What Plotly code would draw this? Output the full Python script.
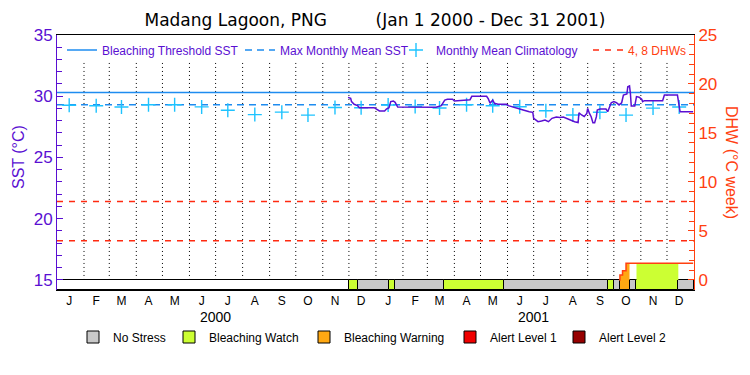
import plotly.graph_objects as go
import pandas as pd

# ---------------- data ----------------
title_text = "Madang Lagoon, PNG" + "\u00a0" * 9 + "(Jan 1 2000 - Dec 31 2001)"

month_tick_dates = ["2000-01-15", "2000-02-15", "2000-03-15", "2000-04-15", "2000-05-15", "2000-06-15",
                    "2000-07-15", "2000-08-15", "2000-09-15", "2000-10-15", "2000-11-15", "2000-12-15",
                    "2001-01-15", "2001-02-15", "2001-03-15", "2001-04-15", "2001-05-15", "2001-06-15",
                    "2001-07-15", "2001-08-15", "2001-09-15", "2001-10-15", "2001-11-15", "2001-12-15"]
month_tick_labels = ["J", "F", "M", "A", "M", "J", "J", "A", "S", "O", "N", "D",
                     "J", "F", "M", "A", "M", "J", "J", "A", "S", "O", "N", "D"]
year_label_dates = ["2000-07-01", "2001-07-01"]
year_labels = ["2000", "2001"]

sst_dates = ["2000-11-30", "2000-12-03", "2000-12-04", "2000-12-07", "2000-12-11", "2000-12-13",
             "2000-12-30", "2001-01-02", "2001-01-05", "2001-01-11", "2001-01-13", "2001-01-16",
             "2001-01-18", "2001-01-21", "2001-01-23", "2001-01-26", "2001-03-06", "2001-03-11",
             "2001-03-17", "2001-03-21", "2001-03-24", "2001-03-30", "2001-04-01", "2001-04-13",
             "2001-04-19", "2001-04-21", "2001-05-08", "2001-05-10", "2001-05-12", "2001-05-15",
             "2001-05-17", "2001-05-21", "2001-05-31", "2001-06-02", "2001-06-09", "2001-06-13",
             "2001-06-19", "2001-06-26", "2001-06-30", "2001-07-01", "2001-07-06", "2001-07-10",
             "2001-07-14", "2001-07-18", "2001-07-22", "2001-07-27", "2001-07-31", "2001-08-04",
             "2001-08-08", "2001-08-11", "2001-08-17", "2001-08-21", "2001-08-22", "2001-08-25",
             "2001-08-28", "2001-08-31", "2001-09-01", "2001-09-03", "2001-09-05", "2001-09-07",
             "2001-09-09", "2001-09-11", "2001-09-12", "2001-09-15", "2001-09-22", "2001-09-24",
             "2001-09-26", "2001-09-28", "2001-10-01", "2001-10-04", "2001-10-07", "2001-10-10",
             "2001-10-12", "2001-10-16", "2001-10-17", "2001-10-19", "2001-10-20", "2001-10-21",
             "2001-10-25", "2001-10-27", "2001-10-30", "2001-11-02", "2001-11-03", "2001-11-05",
             "2001-11-26", "2001-11-28", "2001-12-13", "2001-12-15", "2001-12-16", "2001-12-31"]
sst_values = [29.91, 29.83, 29.56, 29.34, 29.23, 29.07,
              29.07, 28.96, 28.80, 28.80, 28.96, 29.07,
              29.56, 29.61, 29.50, 29.12, 29.10, 29.10,
              29.23, 29.69, 29.75, 29.75, 29.61, 29.67,
              29.72, 29.99, 29.99, 29.78, 29.42, 29.69,
              29.42, 29.34, 29.34, 29.23, 29.07, 28.96,
              28.88, 28.74, 28.69, 28.20, 27.92, 27.98,
              28.06, 27.92, 28.20, 28.31, 28.27, 28.31,
              28.20, 28.06, 27.92, 27.85, 28.65, 28.47,
              28.35, 28.60, 29.00, 28.60, 28.33, 27.84,
              27.84, 28.33, 28.88, 28.96, 28.96, 28.74,
              29.15, 29.47, 29.56, 29.47, 29.29, 29.47,
              30.10, 30.18, 30.78, 30.84, 30.24, 29.20,
              29.20, 29.97, 29.92, 29.75, 29.56, 29.64,
              29.64, 30.10, 30.10, 29.29, 28.74, 28.74]

clim_dates = month_tick_dates
clim_values = [29.26, 29.22, 29.12, 29.31, 29.30, 29.13, 28.85, 28.50, 28.70, 28.46, 29.08, 29.06,
               29.28, 29.17, 29.04, 29.30, 29.22, 29.14, 28.82, 28.47, 28.69, 28.46, 29.03, 29.12]

bleaching_threshold = 30.3
max_monthly_mean = 29.3
dhw_levels = [4, 8]

dhw_dates = ["2001-10-07", "2001-10-08", "2001-10-11", "2001-10-15", "2001-12-31"]
dhw_values = [0.0, 0.5, 0.95, 1.7, 1.7]

# area under DHW coloured by stress level
warn_fill_dates = ["2001-10-08", "2001-10-11", "2001-10-15", "2001-10-19"]
warn_fill_values = [0.5, 0.95, 1.7, 1.7]
watch_fill_dates = ["2001-10-27", "2001-12-14"]
watch_fill_values = [1.7, 1.7]

# stress-level strip
stress_starts = ["2000-12-01", "2000-12-11", "2001-01-16", "2001-01-23", "2001-03-20", "2001-05-28",
                 "2001-09-24", "2001-10-01", "2001-10-08", "2001-10-20", "2001-10-26", "2001-12-14"]
stress_ends = ["2000-12-11", "2001-01-16", "2001-01-23", "2001-03-20", "2001-05-28", "2001-09-24",
               "2001-10-01", "2001-10-08", "2001-10-20", "2001-10-26", "2001-12-14", "2002-01-01"]
stress_levels = ["Bleaching Watch", "No Stress", "Bleaching Watch", "No Stress", "Bleaching Watch", "No Stress",
                 "Bleaching Watch", "No Stress", "Bleaching Warning", "No Stress", "Bleaching Watch", "No Stress"]
no_data_start, no_data_end = "2000-01-01", "2000-12-01"

stress_names = ["No Stress", "Bleaching Watch", "Bleaching Warning", "Alert Level 1", "Alert Level 2"]
stress_colors = ["#C8C8C8", "#CCFF33", "#FFA812", "#F00000", "#960000"]

# ---------------- styling ----------------
PURPLE = "#5A0FD2"
ORANGE = "#FF4010"
RED = "#FF2A10"
BLUE = "#1E8CF0"
CYAN = "#1EC3FF"
FONT = "Liberation Sans"
TFONT = "DejaVu Sans"
X0, X1 = "2000-01-01", "2002-01-01"
STRIP = 1.025  # strip height in DHW units

L, R, T, B = 57, 56, 35, 85
W, H = 750, 375
PW, PH = W - L - R, H - T - B


def px_x(p):
    return (p - L) / PW


def px_y(p):
    return (H - B - p) / PH


fig = go.Figure()

# month boundary dotted lines
mstarts = pd.date_range("2000-02-01", "2001-12-01", freq="MS")
gx, gy = [], []
for d in mstarts:
    gx += [d, d, None]
    gy += [15, 32.8, None]
fig.add_trace(go.Scatter(x=gx, y=gy, mode="lines", line=dict(color="black", width=1, dash="1px,3px"),
                         showlegend=False, hoverinfo="skip"))

# stress strip (on DHW axis)
s0, s1 = pd.Timestamp(no_data_start), pd.Timestamp(no_data_end)
fig.add_trace(go.Bar(x=[s0 + (s1 - s0) / 2], y=[STRIP], base=-STRIP, width=[(s1 - s0).total_seconds() * 1000],
                     marker=dict(color="white", line=dict(color="black", width=1)), yaxis="y2",
                     showlegend=False, hoverinfo="skip"))
bottom_leg_x = [73, 169, 304, 450, 559]
for i, (name, col) in enumerate(zip(stress_names, stress_colors)):
    xs, ws = [], []
    for a, b, lv in zip(stress_starts, stress_ends, stress_levels):
        if lv == name:
            ta, tb = pd.Timestamp(a), pd.Timestamp(b)
            xs.append(ta + (tb - ta) / 2)
            ws.append((tb - ta).total_seconds() * 1000)
    if not xs:
        xs, ws = [None], [1]
    fig.add_trace(go.Bar(x=xs, y=[STRIP] * len(xs), base=-STRIP, width=ws, name=name,
                         marker=dict(color=col, line=dict(color="black", width=1)), yaxis="y2",
                         legend="legend%d" % (5 + i), hoverinfo="skip"))

# DHW filled areas
fig.add_trace(go.Scatter(x=warn_fill_dates, y=warn_fill_values, mode="lines", line=dict(width=0, shape="hv"),
                         fill="tozeroy", fillcolor=stress_colors[2], yaxis="y2", showlegend=False, hoverinfo="skip"))
fig.add_trace(go.Scatter(x=watch_fill_dates, y=watch_fill_values, mode="lines", line=dict(width=0, shape="hv"),
                         fill="tozeroy", fillcolor=stress_colors[1], yaxis="y2", showlegend=False, hoverinfo="skip"))

# reference lines
fig.add_trace(go.Scatter(x=[X0, X1], y=[bleaching_threshold] * 2, mode="lines",
                         line=dict(color=BLUE, width=1.5), name="Bleaching Threshold SST", legend="legend"))
fig.add_trace(go.Scatter(x=[X0, X1], y=[max_monthly_mean] * 2, mode="lines",
                         line=dict(color=BLUE, width=1.5, dash="7px,5px"), name="Max Monthly Mean SST",
                         legend="legend2"))
dx, dy = [], []
for lv in dhw_levels:
    dx += [X0, X1, None]
    dy += [lv, lv, None]
fig.add_trace(go.Scatter(x=dx, y=dy, mode="lines", line=dict(color=RED, width=1.5, dash="6px,6px"),
                         name="4, 8 DHWs", yaxis="y2", legend="legend4"))

# climatology
fig.add_trace(go.Scatter(x=clim_dates, y=clim_values, mode="markers",
                         marker=dict(symbol="cross-thin", size=10, line=dict(color=CYAN, width=1.4)),
                         name="Monthly Mean Climatology", legend="legend3"))

# DHW line
fig.add_trace(go.Scatter(x=dhw_dates, y=dhw_values, mode="lines", line=dict(color=ORANGE, width=1.5, shape="hv"),
                         yaxis="y2", showlegend=False))

# SST line
fig.add_trace(go.Scatter(x=sst_dates, y=sst_values, mode="lines", line=dict(color=PURPLE, width=1.5),
                         showlegend=False))

# ---------------- layout ----------------
leg_common = dict(orientation="h", xanchor="left", yanchor="middle", bgcolor="rgba(0,0,0,0)",
                  font=dict(family=FONT, size=12, color=PURPLE), itemclick=False)

legends = dict(
    legend=dict(x=px_x(62), y=px_y(50), **leg_common),
    legend2=dict(x=px_x(240), y=px_y(50), **leg_common),
    legend3=dict(x=px_x(396), y=px_y(50), **leg_common),
    legend4=dict(x=px_x(588), y=px_y(50), **{**leg_common, "font": dict(family=FONT, size=12, color=ORANGE)}),
)
for i, lx in enumerate(bottom_leg_x):
    legends["legend%d" % (5 + i)] = dict(x=px_x(lx), y=px_y(337), orientation="h", xanchor="left",
                                         yanchor="middle", bgcolor="rgba(0,0,0,0)",
                                         font=dict(family=FONT, size=12, color="black"), itemclick=False)

fig.update_layout(
    width=W, height=H, margin=dict(l=L, r=R, t=T, b=B, autoexpand=False),
    paper_bgcolor="white", plot_bgcolor="white",
    barmode="overlay", bargap=0,
    showlegend=True,
    title=dict(text=title_text, x=0.5, xanchor="center", y=1 - 20 / H, yanchor="middle",
               font=dict(family=TFONT, size=17, color="black")),
    xaxis=dict(type="date", range=[X0, X1], tickmode="array", tickvals=month_tick_dates,
               ticktext=month_tick_labels, ticks="", showgrid=False, zeroline=False,
               showline=True, mirror=True, linecolor="black", linewidth=1,
               tickfont=dict(family=FONT, size=12, color="black")),
    yaxis=dict(range=[35 - 0.8 * (25 + STRIP), 35], tickmode="linear", tick0=0, dtick=5,
               ticks="inside", ticklen=6, tickcolor=PURPLE, showline=True, linecolor=PURPLE, linewidth=1,
               showgrid=False, zeroline=False, tickfont=dict(family=FONT, size=17, color=PURPLE),
               minor=dict(dtick=1, tick0=0, ticks="inside", ticklen=5, tickcolor=PURPLE, showgrid=False)),
    yaxis2=dict(range=[-STRIP, 25], overlaying="y", side="right", tickmode="linear", tick0=0, dtick=5,
                ticks="inside", ticklen=6, tickcolor=ORANGE, showline=True, linecolor=ORANGE, linewidth=1,
                showgrid=False, zeroline=False, tickfont=dict(family=FONT, size=17, color=ORANGE),
                minor=dict(dtick=1, tick0=0, ticks="inside", ticklen=5, tickcolor=ORANGE, showgrid=False)),
    **legends,
)

annotations = [
    dict(text="SST (\u00b0C)", x=px_x(18), y=px_y(157), xref="paper", yref="paper", showarrow=False,
         xanchor="center", yanchor="middle", textangle=-90, font=dict(family=FONT, size=16, color=PURPLE)),
    dict(text="DHW (\u00b0C week)", x=px_x(732), y=px_y(162), xref="paper", yref="paper",
         xanchor="center", yanchor="middle", showarrow=False, textangle=90,
         font=dict(family=FONT, size=16, color=ORANGE)),
]
for d, lab in zip(year_label_dates, year_labels):
    annotations.append(dict(text=lab, x=d, y=px_y(317), xref="x", yref="paper", showarrow=False,
                            xanchor="center", yanchor="middle",
                            font=dict(family=FONT, size=14, color="black")))
fig.update_layout(annotations=annotations)

fig.write_html("out.html", config={"displayModeBar": False},
               post_script="document.body.style.margin='0px';")
